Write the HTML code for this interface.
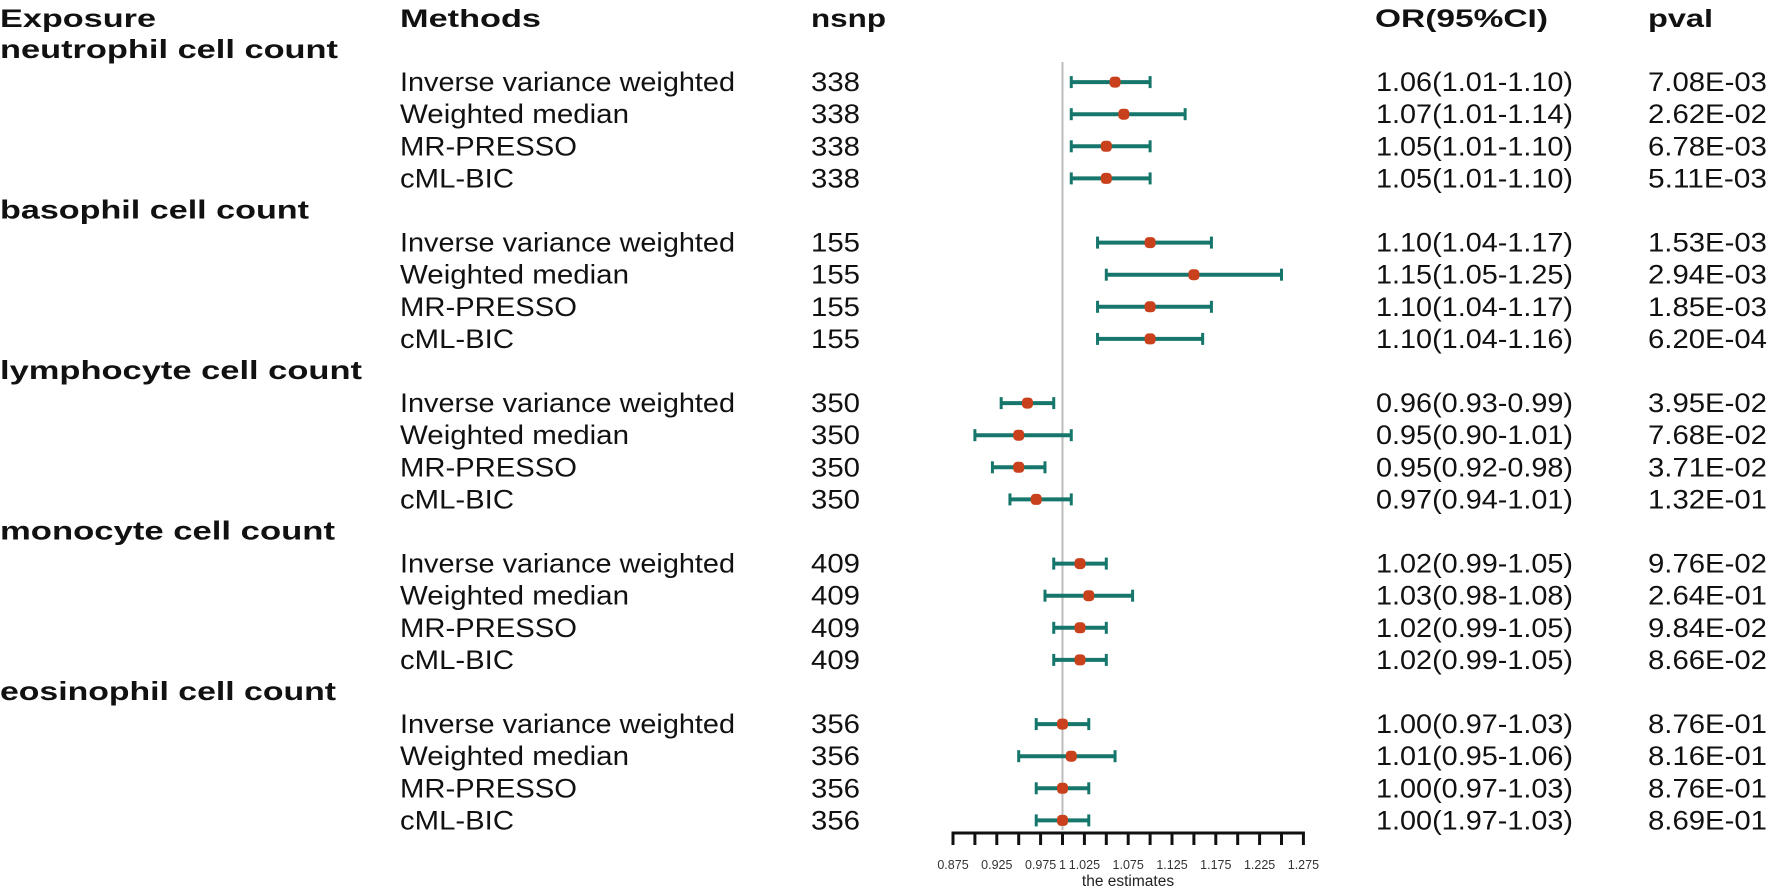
<!DOCTYPE html>
<html><head><meta charset="utf-8"><style>
html,body{margin:0;padding:0;background:#fff;}
svg{display:block;font-family:"Liberation Sans",Arial,sans-serif;}
</style></head><body>
<svg id="chart" width="1772" height="894" viewBox="0 0 1772 894"></svg>
<script>
const groups = ["neutrophil cell count","basophil cell count","lymphocyte cell count","monocyte cell count","eosinophil cell count"];
const methods = ["Inverse variance weighted","Weighted median","MR-PRESSO","cML-BIC"];
const nsnp = [338,155,350,409,356];
const orVals = [[1.06,1.07,1.05,1.05],[1.10,1.15,1.10,1.10],[0.96,0.95,0.95,0.97],[1.02,1.03,1.02,1.02],[1.00,1.01,1.00,1.00]];
const loVals = [[1.01,1.01,1.01,1.01],[1.04,1.05,1.04,1.04],[0.93,0.90,0.92,0.94],[0.99,0.98,0.99,0.99],[0.97,0.95,0.97,0.97]];
const hiVals = [[1.10,1.14,1.10,1.10],[1.17,1.25,1.17,1.16],[0.99,1.01,0.98,1.01],[1.05,1.08,1.05,1.05],[1.03,1.06,1.03,1.03]];
const orText = [["1.06(1.01-1.10)","1.07(1.01-1.14)","1.05(1.01-1.10)","1.05(1.01-1.10)"],["1.10(1.04-1.17)","1.15(1.05-1.25)","1.10(1.04-1.17)","1.10(1.04-1.16)"],["0.96(0.93-0.99)","0.95(0.90-1.01)","0.95(0.92-0.98)","0.97(0.94-1.01)"],["1.02(0.99-1.05)","1.03(0.98-1.08)","1.02(0.99-1.05)","1.02(0.99-1.05)"],["1.00(0.97-1.03)","1.01(0.95-1.06)","1.00(0.97-1.03)","1.00(1.97-1.03)"]];
const pvals = [["7.08E-03","2.62E-02","6.78E-03","5.11E-03"],["1.53E-03","2.94E-03","1.85E-03","6.20E-04"],["3.95E-02","7.68E-02","3.71E-02","1.32E-01"],["9.76E-02","2.64E-01","9.84E-02","8.66E-02"],["8.76E-01","8.16E-01","8.76E-01","8.69E-01"]];
const tickVals = [0.875,0.9,0.925,0.95,0.975,1,1.025,1.05,1.075,1.1,1.125,1.15,1.175,1.2,1.225,1.25,1.275];
const tickLabels = ["0.875","0.925","0.975","1","1.025","1.075","1.125","1.175","1.225","1.275"];
const refValue = 1;

const svg = document.getElementById('chart');
const NS = 'http://www.w3.org/2000/svg';
const X0 = 953, XMIN = 0.875, PPU = 876;
function xs(v){ return X0 + (v - XMIN) * PPU; }
function ys(idx){ return 50 + idx * 32.1; }
function mk(tag, attrs, parent){
  const e = document.createElementNS(NS, tag);
  for (const k in attrs) e.setAttribute(k, attrs[k]);
  (parent || svg).appendChild(e);
  return e;
}
function txt(s, x, y, fs, w, bold){
  const t = mk('text', {x:x, y:y, 'font-size':fs, fill:'#111', 'font-weight': bold ? 'bold' : 'normal'});
  if (w) { t.setAttribute('textLength', w); t.setAttribute('lengthAdjust', 'spacingAndGlyphs'); }
  t.textContent = s;
  return t;
}
const methodW = {"Inverse variance weighted":335,"Weighted median":229,"MR-PRESSO":177,"cML-BIC":114};
const groupW = [338,309,362,335,336];

let t;
t = txt("Exposure", 0, 27, 25, 156, true);


t = txt("Methods", 400, 27, 25, 141, true);


t = txt("nsnp", 811, 27, 25, 75, true);


t = txt("OR(95%CI)", 1375, 27, 25, 173, true);


t = txt("pval", 1648, 27, 25, 65, true);



const ref = mk('line', {x1:xs(refValue), x2:xs(refValue), y1:62, y2:830, stroke:'#bdbdbd', 'stroke-width':2});



groups.forEach((g, gi) => {
  const hy = ys(gi * 5);
  const gt = txt(g, 0, hy + 8, 26, groupW[gi], true);
  
  
  methods.forEach((m, mi) => {
    const y = ys(gi * 5 + 1 + mi);
    const a = txt(m, 400, y + 9, 27, methodW[m], false);
    
    
    const b = txt(String(nsnp[gi]), 811, y + 9, 27, 49, false);
    
    
    const c = txt(orText[gi][mi], 1376, y + 9, 27, 197, false);
    
    
    const d = txt(pvals[gi][mi], 1648, y + 9, 27, 119, false);
    
    
    const lo = xs(loVals[gi][mi]), hi = xs(hiVals[gi][mi]);
    const ci = mk('line', {x1:lo, x2:hi, y1:y, y2:y, stroke:'#17766b', 'stroke-width':4});
    
    
    const c1 = mk('line', {x1:lo, x2:lo, y1:y-6, y2:y+6, stroke:'#17766b', 'stroke-width':3});
    
    
    const c2 = mk('line', {x1:hi, x2:hi, y1:y-6, y2:y+6, stroke:'#17766b', 'stroke-width':3});
    
    
    const p = mk('rect', {x:xs(orVals[gi][mi]) - 5.5, y:y - 5.5, width:11, height:11, rx:4, fill:'#c8401c'});
    
    
  });
});

const ax = mk('g', {});


mk('line', {x1:xs(tickVals[0]) - 1.5, x2:xs(tickVals[tickVals.length-1]) + 1.5, y1:833, y2:833, stroke:'#111', 'stroke-width':3}, ax);
tickVals.forEach(v => {
  const tk = mk('line', {x1:xs(v), x2:xs(v), y1:833, y2:845, stroke:'#111', 'stroke-width':3}, ax);
  
  
});
tickLabels.forEach(s => {
  const tl = mk('text', {x:xs(parseFloat(s)), y:869, 'font-size':12.5, 'text-anchor':'middle', fill:'#333'}, ax);
  tl.textContent = s;
  
  
});
const xt = mk('text', {x:1128, y:886, 'font-size':15.5, 'text-anchor':'middle', fill:'#222'}, ax);
xt.textContent = 'the estimates';


</script>
</body></html>
